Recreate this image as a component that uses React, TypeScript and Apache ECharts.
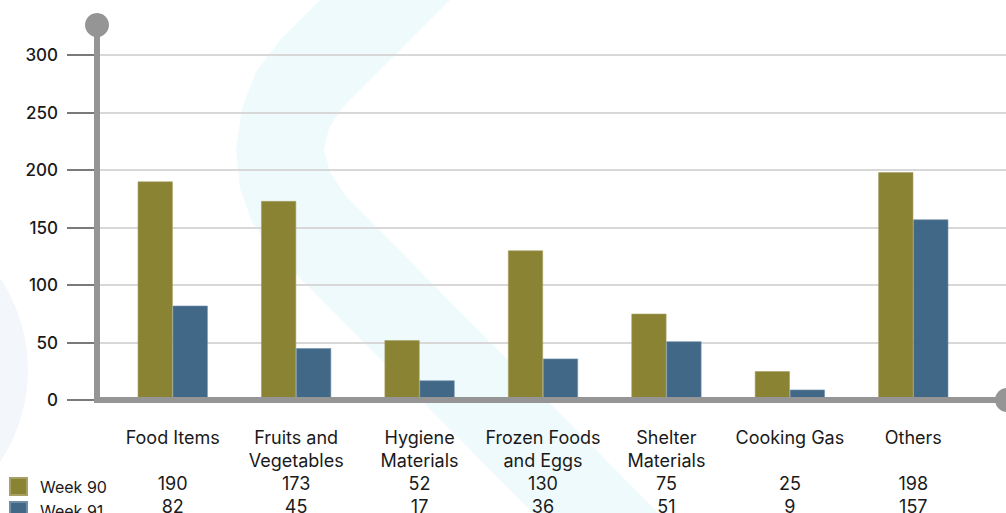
import React, { useEffect, useRef } from "react";
import * as echarts from "echarts";

const categories = [
  "Food Items",
  "Fruits and\nVegetables",
  "Hygiene\nMaterials",
  "Frozen Foods\nand Eggs",
  "Shelter\nMaterials",
  "Cooking Gas",
  "Others",
];
const seriesNames = ["Week 90", "Week 91"];
const week90 = [190, 173, 52, 130, 75, 25, 198];
const week91 = [82, 45, 17, 36, 51, 9, 157];
const yTicks = [0, 50, 100, 150, 200, 250, 300];

const OLIVE = "#8a8334";
const BLUE = "#426887";
const AXIS = "#959595";
const FONT = "Inter";

export default function App() {
  const ref = useRef<HTMLDivElement>(null);
  useEffect(() => {
    if (!ref.current) return;
    const chart = echarts.init(ref.current, null, { renderer: "svg" });
    const yMin = yTicks[0];
    const yMax = yTicks[yTicks.length - 1];
    const yInterval = yTicks[1] - yTicks[0];
    chart.setOption({
      animation: false,
      backgroundColor: "#ffffff",
      textStyle: { fontFamily: FONT },
      grid: [
        { left: 97, right: 0, top: 55, bottom: 113, outerBoundsMode: "none", containLabel: false },
        { left: 111, right: 31, top: 55, bottom: 113, outerBoundsMode: "none", containLabel: false },
      ],
      legend: {
        data: seriesNames,
        orient: "vertical",
        left: 9,
        top: 477,
        height: 60,
        padding: 0,
        itemWidth: 17,
        itemHeight: 17,
        itemGap: 5,
        icon: "rect",
        textStyle: { fontFamily: FONT, fontSize: 16, color: "#1a1a1a", padding: [0, 0, 0, 8] },
      },
      xAxis: [
        { type: "value", gridIndex: 0, show: false, min: 0, max: 1 },
        {
          type: "category",
          gridIndex: 1,
          data: categories,
          axisLine: { show: false },
          axisTick: { show: false },
          axisLabel: {
            interval: 0,
            margin: 26,
            verticalAlign: "top",
            fontFamily: FONT,
            fontSize: 18,
            lineHeight: 23,
            color: "#1a1a1a",
            formatter: (value: string, idx: number) => {
              const name = value.includes("\n") ? value : value + "\n ";
              return name + "\n" + week90[idx] + "\n" + week91[idx];
            },
          },
        },
      ],
      yAxis: [
        {
          type: "value",
          gridIndex: 0,
          min: yMin,
          max: yMax,
          interval: yInterval,
          axisLine: { show: false },
          axisTick: { show: true, length: 30, lineStyle: { color: "#7a7a7a", width: 2 } },
          axisLabel: {
            margin: 39,
            fontFamily: FONT,
            fontSize: 17,
            fontWeight: 500,
            color: "#1a1a1a",
          },
          splitLine: { show: true, lineStyle: { color: "#d8d8d8", width: 2 } },
        },
        {
          type: "value",
          gridIndex: 1,
          min: yMin,
          max: yMax,
          interval: yInterval,
          show: false,
          splitLine: { show: false },
        },
      ],
      series: [
        {
          name: seriesNames[0],
          type: "bar",
          xAxisIndex: 1,
          yAxisIndex: 1,
          data: week90,
          barWidth: 35,
          barGap: "0%",
          itemStyle: { color: OLIVE, borderColor: "#a6a063", borderWidth: 0.6 },
          z: 5,
        },
        {
          name: seriesNames[1],
          type: "bar",
          xAxisIndex: 1,
          yAxisIndex: 1,
          data: week91,
          barWidth: 35,
          barGap: "0%",
          itemStyle: { color: BLUE, borderColor: "#6f8ea8", borderWidth: 0.6 },
          z: 5,
        },
      ],
      graphic: [
        {
          type: "circle",
          z: -20,
          silent: true,
          shape: { cx: -137, cy: 370, r: 165 },
          style: { fill: "#f3f7fc" },
        },
        {
          type: "polygon",
          z: -20,
          silent: true,
          shape: {
            points: [
              [330, -10],
              [280, 40],
              [256, 72],
              [242, 108],
              [236, 150],
              [240, 188],
              [252, 222],
              [274, 252],
              [540, 520],
              [665, 520],
              [345, 195],
              [330, 172],
              [324, 150],
              [329, 128],
              [342, 108],
              [460, -10],
            ],
          },
          style: { fill: "#effafc" },
        },
        {
          type: "line",
          z: 100,
          silent: true,
          shape: { x1: 97, y1: 25, x2: 97, y2: 403 },
          style: { stroke: AXIS, lineWidth: 6 },
        },
        {
          type: "line",
          z: 100,
          silent: true,
          shape: { x1: 94, y1: 400, x2: 1006, y2: 400 },
          style: { stroke: AXIS, lineWidth: 6 },
        },
        {
          type: "circle",
          z: 100,
          silent: true,
          shape: { cx: 97, cy: 25, r: 12 },
          style: { fill: AXIS },
        },
        {
          type: "circle",
          z: 100,
          silent: true,
          shape: { cx: 1007, cy: 400, r: 12 },
          style: { fill: AXIS },
        },
      ],
    });
    return () => chart.dispose();
  }, []);
  return (
    <div
      ref={ref}
      style={{ position: "fixed", left: 0, top: 0, width: 1006, height: 513 }}
    />
  );
}
